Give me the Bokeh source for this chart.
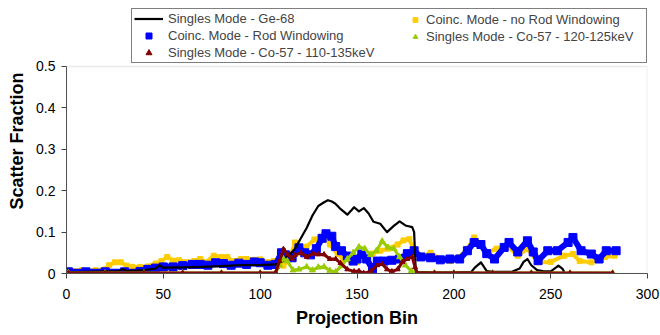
from bokeh.plotting import figure
from bokeh.models import Range1d, FixedTicker, Legend, LegendItem, BoxAnnotation
from bokeh.embed import file_html
from bokeh.resources import INLINE

# ---------------- data ----------------
ge68_bin = [1, 10, 20, 27, 29, 31, 40, 46, 48, 50, 60, 70, 80, 90, 100, 108, 112, 115, 118, 121,
            124, 127, 130, 133, 135, 137, 139, 141, 143, 145, 147, 148.5, 151, 153.5, 156, 158.5,
            162, 165.5, 169, 172, 175, 178.5, 179.5, 180.3, 181, 190, 200, 209, 211, 214, 217,
            220, 230, 234, 236, 238, 240, 243, 246, 250, 252, 254, 256, 257]
ge68_sf = [0.003, 0.004, 0.005, 0.006, 0.01, 0.006, 0.008, 0.012, 0.02, 0.014, 0.015, 0.016, 0.018,
           0.02, 0.02, 0.022, 0.03, 0.045, 0.06, 0.085, 0.11, 0.14, 0.163, 0.172, 0.177, 0.174,
           0.168, 0.158, 0.15, 0.142, 0.152, 0.16, 0.15, 0.158, 0.145, 0.125, 0.12, 0.1, 0.115,
           0.126, 0.116, 0.112, 0.1, 0.01, 0.004, 0.003, 0.003, 0.004, 0.015, 0.027, 0.006, 0.004,
           0.004, 0.012, 0.028, 0.035, 0.02, 0.008, 0.006, 0.005, 0.012, 0.019, 0.012, 0.004]

norod_bin = [1, 8, 15, 20, 22, 25, 28, 31, 34, 38, 42, 46, 49, 52, 55, 58, 62, 66, 69, 72, 76, 80,
             83, 86, 90, 93, 97, 100, 104, 107, 110, 112, 115.6, 118, 121, 124, 128, 131, 133, 136,
             140, 143, 147, 150, 154, 158, 162, 166, 171, 174, 177, 180, 183, 188, 193, 198, 203,
             207, 210.5, 214, 217, 222, 228, 233, 238, 243.5, 250, 257, 261.5, 265, 271, 275, 278, 283]
norod_sf = [0.008, 0.008, 0.008, 0.01, 0.02, 0.027, 0.027, 0.019, 0.016, 0.016, 0.017, 0.024, 0.03,
            0.04, 0.031, 0.032, 0.027, 0.03, 0.035, 0.027, 0.043, 0.04, 0.04, 0.03, 0.035, 0.035,
            0.033, 0.034, 0.027, 0.03, 0.03, 0.019, 0.04, 0.075, 0.05, 0.065, 0.082, 0.087, 0.094,
            0.07, 0.047, 0.035, 0.03, 0.028, 0.035, 0.048, 0.055, 0.06, 0.07, 0.08, 0.083, 0.047,
            0.04, 0.05, 0.035, 0.03, 0.04, 0.06, 0.087, 0.07, 0.05, 0.06, 0.065, 0.043, 0.06, 0.027,
            0.028, 0.043, 0.047, 0.03, 0.027, 0.035, 0.04, 0.043]

rod_bin = [1, 10, 20, 30, 38, 42, 46, 50, 55, 60, 65, 69, 73, 77, 81, 85, 89, 93, 97, 100, 104,
           108, 111, 113, 116.5, 120, 123, 126, 129, 132, 134, 137, 139, 142, 145, 148, 150, 152.5,
           155, 158, 160.5, 164, 168, 172, 176, 179.5, 183, 188, 193, 198, 203, 207, 210.5, 214,
           217, 221, 226, 228.5, 233, 238, 241, 243.5, 248.5, 253.5, 259, 261.5, 265.7, 271, 275,
           278.7, 283.8]
rod_sf = [0.004, 0.004, 0.004, 0.004, 0.005, 0.01, 0.013, 0.016, 0.016, 0.019, 0.022, 0.022, 0.02,
          0.026, 0.024, 0.02, 0.025, 0.022, 0.028, 0.026, 0.02, 0.022, 0.05, 0.045, 0.038, 0.062,
          0.05, 0.045, 0.06, 0.085, 0.096, 0.09, 0.065, 0.055, 0.042, 0.03, 0.035, 0.047, 0.035,
          0.01, 0.03, 0.03, 0.032, 0.035, 0.048, 0.055, 0.04, 0.038, 0.033, 0.035, 0.035, 0.055,
          0.075, 0.07, 0.048, 0.035, 0.063, 0.075, 0.052, 0.079, 0.052, 0.031, 0.055, 0.055, 0.075,
          0.087, 0.055, 0.047, 0.035, 0.055, 0.055]

co57n_bin = [1, 20, 40, 60, 80, 100, 108, 110, 112, 114, 117, 120, 124, 127, 130, 133, 136, 139,
             142, 145, 148, 151, 154, 157, 160, 163, 166, 169, 172, 175, 178, 180, 190, 200, 220,
             240, 260, 282]
co57n_sf = [0.001, 0.001, 0.001, 0.001, 0.001, 0.001, 0.002, 0.02, 0.035, 0.03, 0.008, 0.01, 0.016,
            0.008, 0.015, 0.016, 0.007, 0.004, 0.019, 0.035, 0.05, 0.064, 0.06, 0.045, 0.055, 0.078,
            0.063, 0.06, 0.04, 0.02, 0.006, 0.001, 0.001, 0.001, 0.001, 0.001, 0.001, 0.001]

co57w_bin = [1, 20, 40, 60, 80, 100, 108, 110, 112, 114, 116.5, 118, 121, 124, 127.5, 130, 133,
             136, 139, 141.5, 145, 148.5, 151, 153.5, 157, 160.5, 163, 165.5, 168, 171, 173.5, 176,
             178.5, 180, 181, 190, 200, 220, 240, 260, 282]
co57w_sf = [0.001, 0.001, 0.001, 0.001, 0.001, 0.001, 0.002, 0.03, 0.059, 0.047, 0.036, 0.045, 0.05,
            0.04, 0.048, 0.046, 0.046, 0.035, 0.035, 0.025, 0.01, 0.005, 0.006, 0.001, 0.005, 0.02,
            0.023, 0.01, 0.005, 0.01, 0.028, 0.035, 0.04, 0.015, 0.001, 0.001, 0.001, 0.001, 0.001,
            0.001, 0.001]

x_ticks = [0, 50, 100, 150, 200, 250, 300]
y_ticks = [0, 0.1, 0.2, 0.3, 0.4, 0.5]
y_tick_labels = ["0", "0.1", "0.2", "0.3", "0.4", "0.5"]

# ---------------- figure ----------------
FONT = "Liberation Sans"
p = figure(width=660, height=335, output_backend="svg", toolbar_location=None,
           x_range=Range1d(0, 300), y_range=Range1d(0, 0.64),
           min_border_left=66, min_border_right=13, min_border_top=8, min_border_bottom=62)
p.outline_line_color = None
p.grid.visible = False
p.background_fill_color = "white"
p.border_fill_color = "white"

# plot-area border (light grey)
p.add_layout(BoxAnnotation(left=0, right=300, bottom=0, top=0.5, fill_alpha=0,
                           line_color="#c0c0c0", line_width=1.5))

# series
YEL = "#FFCC00"
BLU = "#0000FF"
GRN = "#99CC00"
RED = "#800000"

p.line(norod_bin, norod_sf, line_color=YEL, line_width=4, line_join="round")
r_norod = p.scatter(norod_bin, norod_sf, marker="square", size=5, fill_color=YEL, line_color=YEL)

p.line(rod_bin, rod_sf, line_color=BLU, line_width=6, line_join="round")
r_rod = p.scatter(rod_bin, rod_sf, marker="square", size=8, fill_color=BLU, line_color=BLU)

r_ge = p.line(ge68_bin, ge68_sf, line_color="black", line_width=2.2, line_join="round")

p.line(co57n_bin, co57n_sf, line_color=GRN, line_width=3, line_join="round")
r_co57n = p.scatter(co57n_bin, co57n_sf, marker="triangle", size=6, fill_color=GRN, line_color=GRN)

p.line(co57w_bin, co57w_sf, line_color=RED, line_width=3, line_join="round")
r_co57w = p.scatter(co57w_bin, co57w_sf, marker="triangle", size=5, fill_color=RED, line_color=RED)

# axes
for ax in (p.xaxis[0], p.yaxis[0]):
    ax.axis_line_color = "#404040"
    ax.major_tick_line_color = "#404040"
    ax.major_tick_out = 5
    ax.major_tick_in = 0
    ax.minor_tick_line_color = None
    ax.major_label_text_font = FONT
    ax.major_label_text_font_size = "14px"
    ax.major_label_text_color = "black"
    ax.axis_label_text_font = FONT
    ax.axis_label_text_font_size = "18px"
    ax.axis_label_text_font_style = "bold"
    ax.axis_label_text_color = "black"

p.xaxis.ticker = FixedTicker(ticks=x_ticks)
p.xaxis.axis_label = "Projection Bin"
p.xaxis.major_label_standoff = 10
p.xaxis.axis_label_standoff = 6

p.yaxis.ticker = FixedTicker(ticks=y_ticks)
p.yaxis.bounds = (0, 0.5)
p.yaxis.major_label_overrides = {t: s for t, s in zip(y_ticks, y_tick_labels)}
p.yaxis.axis_label = "Scatter Fraction"
p.yaxis.major_label_standoff = 6
p.yaxis.axis_label_standoff = 6

# legend: left column (with the box) and right column
leg_a = Legend(items=[LegendItem(label="Singles Mode - Ge-68", renderers=[r_ge]),
                      LegendItem(label="Coinc. Mode - Rod Windowing", renderers=[r_rod]),
                      LegendItem(label="Singles Mode - Co-57 - 110-135keV", renderers=[r_co57w])],
               location="top_right", margin=0, padding=2, spacing=2,
               glyph_width=29, glyph_height=15, label_height=15, label_width=476,
               label_standoff=5, label_text_font=FONT, label_text_font_size="13px",
               border_line_color="black", border_line_width=1.2,
               background_fill_color="white", background_fill_alpha=1)
leg_b = Legend(items=[LegendItem(label="Coinc. Mode - no Rod Windowing", renderers=[r_norod]),
                      LegendItem(label="Singles Mode - Co-57 - 120-125keV", renderers=[r_co57n])],
               location=(343, 229), margin=0, padding=2, spacing=2,
               glyph_width=12, glyph_height=15, label_height=15,
               label_standoff=5, label_text_font=FONT, label_text_font_size="13px",
               border_line_color=None, background_fill_alpha=0)
p.add_layout(leg_a, "center")
p.add_layout(leg_b, "center")

open("out.html", "w").write(file_html(p, INLINE))
